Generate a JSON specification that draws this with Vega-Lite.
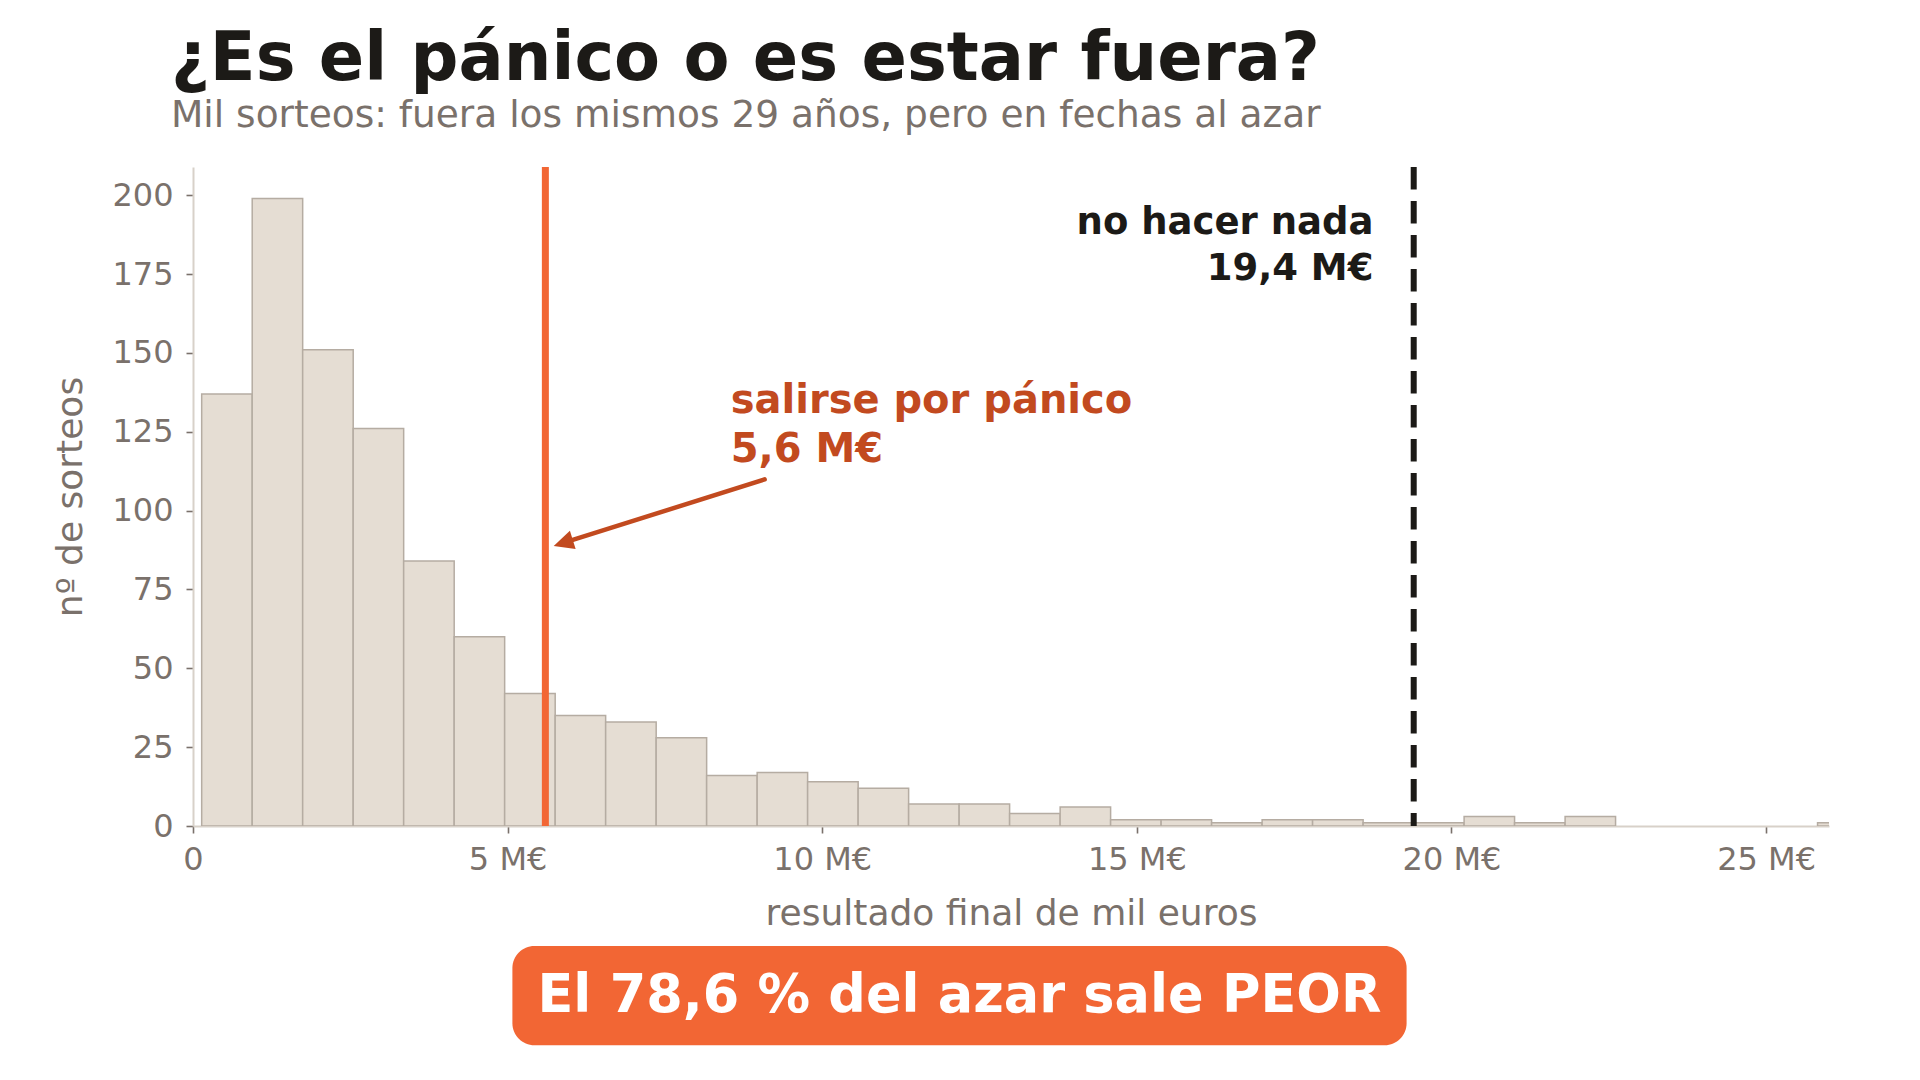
{
  "$schema": "https://vega.github.io/schema/vega-lite/v6.json",
  "width": 1636,
  "height": 659,
  "autosize": {"type": "none"},
  "padding": {"left": 193, "top": 167, "right": 91, "bottom": 254},
  "background": "white",
  "title": {
    "text": "¿Es el pánico o es estar fuera?",
    "subtitle": "Mil sorteos: fuera los mismos 29 años, pero en fechas al azar",
    "anchor": "start",
    "frame": "group",
    "dx": -22,
    "offset": 28,
    "font": "DejaVu Sans",
    "fontSize": 67,
    "fontWeight": "bold",
    "color": "#1c1a17",
    "subtitleFont": "DejaVu Sans",
    "subtitleFontSize": 37.5,
    "subtitleColor": "#7a716b",
    "subtitlePadding": 3
  },
  "datasets": {
    "bins": [
      {"bin_start": 0.138, "bin_end": 0.941, "count": 137},
      {"bin_start": 0.941, "bin_end": 1.743, "count": 199},
      {"bin_start": 1.743, "bin_end": 2.546, "count": 151},
      {"bin_start": 2.546, "bin_end": 3.348, "count": 126},
      {"bin_start": 3.348, "bin_end": 4.151, "count": 84},
      {"bin_start": 4.151, "bin_end": 4.953, "count": 60},
      {"bin_start": 4.953, "bin_end": 5.756, "count": 42},
      {"bin_start": 5.756, "bin_end": 6.558, "count": 35},
      {"bin_start": 6.558, "bin_end": 7.361, "count": 33},
      {"bin_start": 7.361, "bin_end": 8.163, "count": 28},
      {"bin_start": 8.163, "bin_end": 8.966, "count": 16},
      {"bin_start": 8.966, "bin_end": 9.768, "count": 17},
      {"bin_start": 9.768, "bin_end": 10.571, "count": 14},
      {"bin_start": 10.571, "bin_end": 11.373, "count": 12},
      {"bin_start": 11.373, "bin_end": 12.176, "count": 7},
      {"bin_start": 12.176, "bin_end": 12.978, "count": 7},
      {"bin_start": 12.978, "bin_end": 13.781, "count": 4},
      {"bin_start": 13.781, "bin_end": 14.583, "count": 6},
      {"bin_start": 14.583, "bin_end": 15.386, "count": 2},
      {"bin_start": 15.386, "bin_end": 16.188, "count": 2},
      {"bin_start": 16.188, "bin_end": 16.991, "count": 1},
      {"bin_start": 16.991, "bin_end": 17.793, "count": 2},
      {"bin_start": 17.793, "bin_end": 18.596, "count": 2},
      {"bin_start": 18.596, "bin_end": 19.398, "count": 1},
      {"bin_start": 19.398, "bin_end": 20.201, "count": 1},
      {"bin_start": 20.201, "bin_end": 21.003, "count": 3},
      {"bin_start": 21.003, "bin_end": 21.806, "count": 1},
      {"bin_start": 21.806, "bin_end": 22.608, "count": 3},
      {"bin_start": 25.818, "bin_end": 26.621, "count": 1}
    ],
    "escenarios": [
      {"escenario": "salirse por pánico", "valor": 5.6},
      {"escenario": "no hacer nada", "valor": 19.4}
    ]
  },
  "layer": [
    {
      "data": {"name": "bins"},
      "mark": {"type": "bar", "fill": "#e5ddd3", "stroke": "#b5aca2", "strokeWidth": 1.5, "clip": true},
      "encoding": {
        "x": {
          "field": "bin_start",
          "type": "quantitative",
          "scale": {"domain": [0, 26], "nice": false, "zero": false},
          "axis": {
            "title": "resultado final de mil euros",
            "values": [0, 5, 10, 15, 20, 25],
            "labelExpr": "datum.value == 0 ? '0' : datum.value + ' M€'",
            "labelFlush": false,
            "titlePadding": 21,
            "labelPadding": 11.5
          }
        },
        "x2": {"field": "bin_end"},
        "y": {
          "field": "count",
          "type": "quantitative",
          "scale": {"domain": [0, 208.95], "nice": false},
          "axis": {
            "title": "nº de sorteos",
            "values": [0, 25, 50, 75, 100, 125, 150, 175, 200],
            "titlePadding": 22,
            "labelPadding": 13
          }
        },
        "y2": {"datum": 0}
      }
    },
    {
      "data": {"name": "escenarios"},
      "transform": [{"filter": "datum.escenario == 'salirse por pánico'"}],
      "mark": {"type": "rule", "color": "#f26634", "strokeWidth": 7},
      "encoding": {"x": {"field": "valor", "type": "quantitative"}}
    },
    {
      "data": {"name": "escenarios"},
      "transform": [{"filter": "datum.escenario == 'no hacer nada'"}],
      "mark": {"type": "rule", "color": "#1c1a17", "strokeWidth": 6, "strokeDash": [22.5, 11.5]},
      "encoding": {"x": {"field": "valor", "type": "quantitative"}}
    },
    {
      "data": {"values": [{"flecha": "salirse"}]},
      "mark": {"type": "rule", "color": "#c24a1f", "strokeWidth": 4.5, "strokeCap": "round"},
      "encoding": {
        "x": {"datum": 9.085, "type": "quantitative"},
        "y": {"datum": 109.9, "type": "quantitative"},
        "x2": {"datum": 6.035},
        "y2": {"datum": 90.7}
      }
    },
    {
      "data": {"values": [{"flecha": "salirse"}]},
      "mark": {"type": "point", "shape": "M0,0L0.95,2L-0.95,2Z", "filled": true, "opacity": 1, "size": 400, "angle": 252.5, "color": "#c24a1f"},
      "encoding": {
        "x": {"datum": 5.732, "type": "quantitative"},
        "y": {"datum": 88.8, "type": "quantitative"}
      }
    },
    {
      "data": {"values": [{"texto": "salirse por pánico\n5,6 M€"}]},
      "mark": {"type": "text", "align": "left", "baseline": "alphabetic", "fontSize": 40, "fontWeight": "bold", "color": "#c24a1f", "lineBreak": "\n", "lineHeight": 49},
      "encoding": {
        "x": {"datum": 8.545, "type": "quantitative"},
        "y": {"datum": 131.0, "type": "quantitative"},
        "text": {"field": "texto"}
      }
    },
    {
      "data": {"values": [{"texto": "no hacer nada\n19,4 M€"}]},
      "mark": {"type": "text", "align": "right", "baseline": "alphabetic", "fontSize": 37, "fontWeight": "bold", "color": "#1c1a17", "lineBreak": "\n", "lineHeight": 46},
      "encoding": {
        "x": {"datum": 18.76, "type": "quantitative"},
        "y": {"datum": 187.6, "type": "quantitative"},
        "text": {"field": "texto"}
      }
    },
    {
      "data": {"values": [{"texto": "El 78,6 % del azar sale PEOR"}]},
      "mark": {"type": "rect", "color": "#f26634", "cornerRadius": 22},
      "encoding": {
        "x": {"datum": 5.076, "type": "quantitative"},
        "x2": {"datum": 19.287},
        "y": {"datum": -38.05, "type": "quantitative"},
        "y2": {"datum": -69.53}
      }
    },
    {
      "data": {"values": [{"texto": "El 78,6 % del azar sale PEOR"}]},
      "mark": {"type": "text", "align": "center", "baseline": "alphabetic", "fontSize": 52.5, "fontWeight": "bold", "color": "#ffffff"},
      "encoding": {
        "x": {"datum": 12.18, "type": "quantitative"},
        "y": {"datum": -58.97, "type": "quantitative"},
        "text": {"field": "texto"}
      }
    }
  ],
  "config": {
    "font": "DejaVu Sans",
    "view": {"stroke": null},
    "axis": {
      "grid": false,
      "domainColor": "#d8d1c9",
      "domainWidth": 2,
      "tickColor": "#7a716b",
      "tickWidth": 1.6,
      "tickSize": 7,
      "labelFont": "DejaVu Sans",
      "labelFontSize": 32,
      "labelColor": "#7a716b",
      "titleFont": "DejaVu Sans",
      "titleFontSize": 36,
      "titleFontWeight": "normal",
      "titleColor": "#7a716b"
    }
  }
}
